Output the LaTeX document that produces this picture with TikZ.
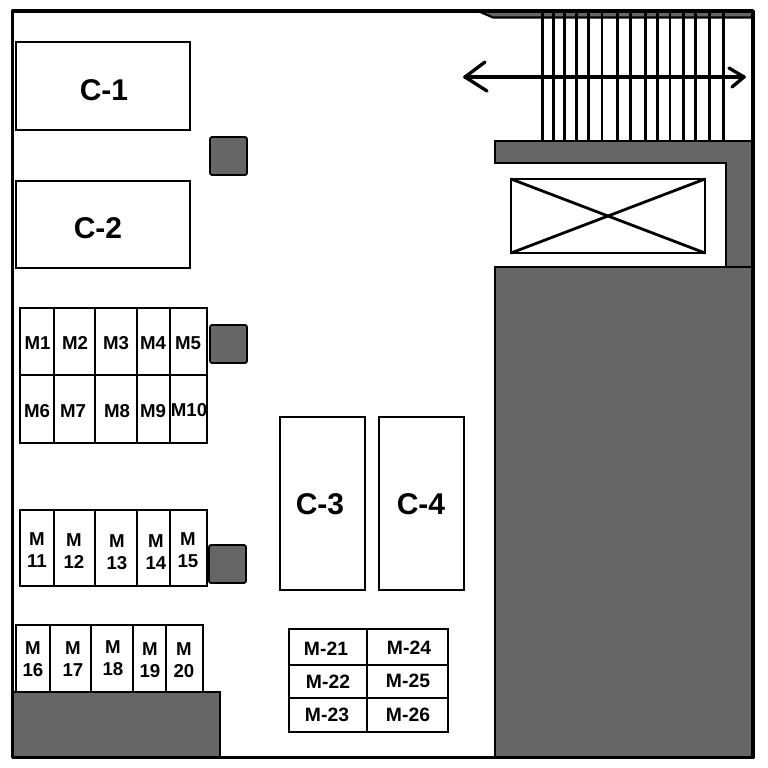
\documentclass[tikz,border=0pt]{standalone}
\usepackage{fontspec}
\setmainfont{Liberation Sans}
\definecolor{wallgray}{HTML}{666666}
\tikzset{
  plainbox/.style={draw=black,fill=white,line width=2.2pt,inner sep=0pt,outer sep=0pt},
  gridbox/.style={draw=black,fill=white,line width=2.1pt,inner sep=0pt,outer sep=0pt},
  pillar/.style={draw=black,fill=wallgray,line width=1.3pt,rounded corners=1.5pt,inner sep=0pt,outer sep=0pt},
  wall/.style={draw=black,fill=wallgray,line width=2pt,line join=miter},
  bigtext/.style={font=\bfseries\fontsize{22.5}{24}\selectfont,inner sep=0pt,outer sep=0pt},
  smalltext/.style={font=\bfseries\fontsize{14}{16.5}\selectfont,inner sep=0pt,outer sep=0pt,align=center},
  tabletext/.style={font=\bfseries\fontsize{14.5}{16}\selectfont,inner sep=0pt,outer sep=0pt},
  stairline/.style={draw=black,line width=2.2pt},
  arrowline/.style={draw=black,line width=2.5pt,line cap=round,line join=round}
}
% name, x1, y1, x2, y2, style
\newcommand{\areabox}[6]{\node[#6,minimum width={(#4-#2)*0.75pt},minimum height={(#5-#3)*0.75pt}] (#1) at ({(#2+#4)/2},{(#3+#5)/2}) {};}
% name, text style, x, y, text
\newcommand{\areatext}[5]{\node[#2] (#1) at (#3,#4) {#5};}
\begin{document}
\begin{tikzpicture}[x=0.75pt,y=-0.75pt]
\useasboundingbox (0,0) rectangle (768,768);
\fill[white] (0,0) rectangle (768,768);
% top strip
\fill[wallgray] (478,11) -- (493,17.5) -- (753,17.5) -- (753,11) -- cycle;
\draw[black,line width=1.6pt] (478,11) -- (493,17.5) -- (753,17.5);
% stair lines
\foreach \sx in {542.7,553.3,564.7,576.7,588.3,602,617.7,630.7,645.7,657.7,670,683.3,695.7,709.3,723.3}
  \draw[stairline] (\sx,11) -- (\sx,141);
% double arrow
\coordinate (arrowl) at (465,77);
\coordinate (arrowr) at (744,77);
\draw[arrowline] (arrowl) -- (arrowr);
\draw[arrowline] (485,62) -- (arrowl) -- (487,91);
\draw[arrowline] (729,68) -- (arrowr) -- (732,87);
% walls
\draw[wall] (495,141) -- (753,141) -- (753,267) -- (726,267) -- (726,163) -- (495,163) -- cycle;
\draw[wall] (495,267) rectangle (753,757.5);
\draw[wall] (13,692) rectangle (220,757.5);
% lift
\areabox{xbox}{511}{179}{705}{253}{plainbox}
\draw[black,line width=2.1pt] (xbox.north west) -- (xbox.south east);
\draw[black,line width=2.1pt] (xbox.north east) -- (xbox.south west);
% large boxes
\areabox{c1}{16}{42}{190}{130}{plainbox}
\areabox{c2}{16}{181}{190}{268}{plainbox}
\areabox{c3}{280}{417}{365}{590}{plainbox}
\areabox{c4}{379}{417}{464}{590}{plainbox}
\areatext{tc1}{bigtext}{104}{90}{C-1}
\areatext{tc2}{bigtext}{98}{228}{C-2}
\areatext{tc3}{bigtext}{320}{504}{C-3}
\areatext{tc4}{bigtext}{421}{504}{C-4}
% pillars
\areabox{p1}{210}{137}{247}{175}{pillar}
\areabox{p2}{210}{325}{247}{363}{pillar}
\areabox{p3}{209}{545}{246}{583}{pillar}
% M1-M5
\areabox{m1}{20}{308}{54}{375}{gridbox}
\areabox{m2}{54}{308}{95}{375}{gridbox}
\areabox{m3}{95}{308}{137}{375}{gridbox}
\areabox{m4}{137}{308}{170}{375}{gridbox}
\areabox{m5}{170}{308}{207}{375}{gridbox}
\areatext{t1}{smalltext}{37.5}{343}{M1}
\areatext{t2}{smalltext}{75}{343}{M2}
\areatext{t3}{smalltext}{116}{343}{M3}
\areatext{t4}{smalltext}{153}{343}{M4}
\areatext{t5}{smalltext}{188}{343}{M5}
% M6-M10
\areabox{m6}{20}{375}{54}{443}{gridbox}
\areabox{m7}{54}{375}{95}{443}{gridbox}
\areabox{m8}{95}{375}{137}{443}{gridbox}
\areabox{m9}{137}{375}{170}{443}{gridbox}
\areabox{m10}{170}{375}{207}{443}{gridbox}
\areatext{t6}{smalltext}{37}{411.5}{M6}
\areatext{t7}{smalltext}{73}{411.5}{M7}
\areatext{t8}{smalltext}{117}{411.5}{M8}
\areatext{t9}{smalltext}{153}{411.5}{M9}
\areatext{t10}{smalltext}{189}{410.5}{M10}
% M11-M15
\areabox{m11}{20}{510}{54}{586}{gridbox}
\areabox{m12}{54}{510}{95}{586}{gridbox}
\areabox{m13}{95}{510}{137}{586}{gridbox}
\areabox{m14}{137}{510}{170}{586}{gridbox}
\areabox{m15}{170}{510}{207}{586}{gridbox}
\areatext{t11}{smalltext}{37}{550}{M\\11}
\areatext{t12}{smalltext}{74}{551.5}{M\\12}
\areatext{t13}{smalltext}{117}{552}{M\\13}
\areatext{t14}{smalltext}{156}{552.5}{M\\14}
\areatext{t15}{smalltext}{188}{550.5}{M\\15}
% M16-M20
\areabox{m16}{16}{625}{50}{692}{gridbox}
\areabox{m17}{50}{625}{91}{692}{gridbox}
\areabox{m18}{91}{625}{133}{692}{gridbox}
\areabox{m19}{133}{625}{166}{692}{gridbox}
\areabox{m20}{166}{625}{203}{692}{gridbox}
\areatext{t16}{smalltext}{33}{659}{M\\16}
\areatext{t17}{smalltext}{73}{659}{M\\17}
\areatext{t18}{smalltext}{113}{658.5}{M\\18}
\areatext{t19}{smalltext}{150}{660.5}{M\\19}
\areatext{t20}{smalltext}{184}{660.5}{M\\20}
% M21-M26
\areabox{m21}{289}{629}{367}{665}{gridbox}
\areabox{m22}{289}{665}{367}{698}{gridbox}
\areabox{m23}{289}{698}{367}{732}{gridbox}
\areabox{m24}{367}{629}{448}{665}{gridbox}
\areabox{m25}{367}{665}{448}{698}{gridbox}
\areabox{m26}{367}{698}{448}{732}{gridbox}
\areatext{t21}{tabletext}{326}{649}{M-21}
\areatext{t22}{tabletext}{328}{682}{M-22}
\areatext{t23}{tabletext}{327}{715}{M-23}
\areatext{t24}{tabletext}{409}{648}{M-24}
\areatext{t25}{tabletext}{408}{681}{M-25}
\areatext{t26}{tabletext}{408}{715}{M-26}
% outer frame
\draw[black,line width=2.7pt,line join=round] (12.5,11) rectangle (753,757.5);
\end{tikzpicture}
\end{document}
